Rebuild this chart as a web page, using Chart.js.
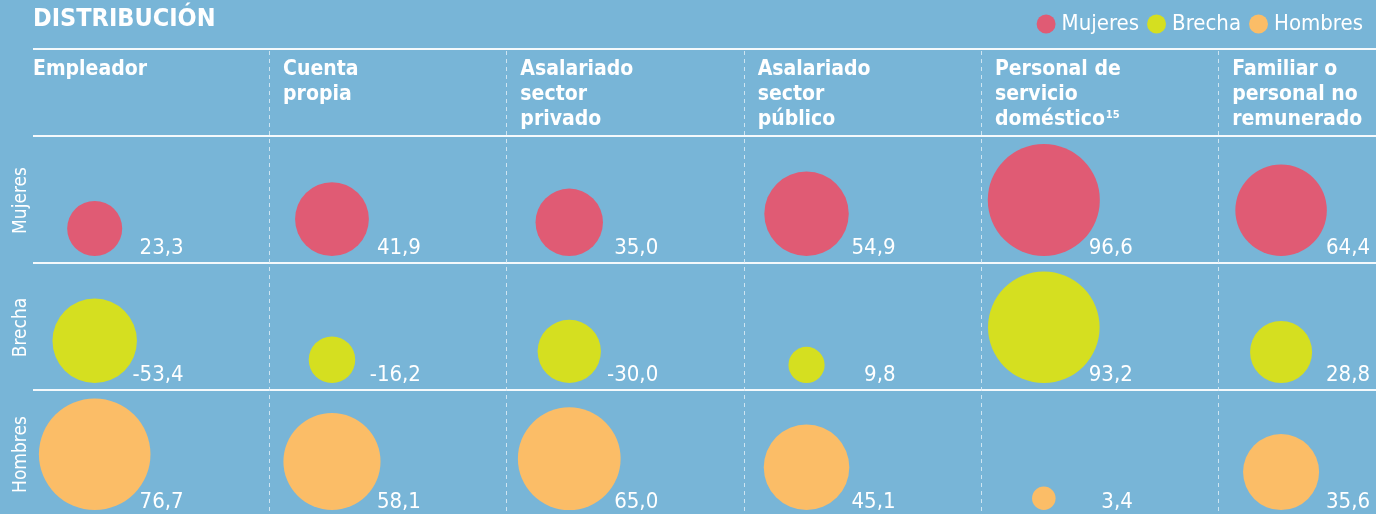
<!DOCTYPE html>
<html>
<head>
<meta charset="utf-8">
<script src="https://cdn.jsdelivr.net/npm/chart.js@4.4.1/dist/chart.umd.min.js"></script>
<style>
  html, body { margin: 0; padding: 0; background: #78b5d7; }
  #wrap { width: 1376px; height: 514px; position: relative; }
</style>
</head>
<body>
<div id="wrap"><canvas id="myChart"></canvas></div>
<script>
// data
const title = "DISTRIBUCIÓN";
const columns = [
  ["Empleador"],
  ["Cuenta", "propia"],
  ["Asalariado", "sector", "privado"],
  ["Asalariado", "sector", "público"],
  ["Personal de", "servicio", "doméstico"],
  ["Familiar o", "personal no", "remunerado"],
];
const footnotes = ["", "", "", "", "15", ""];
const series = ["Mujeres", "Brecha", "Hombres"];
const mujeres = [23.3, 41.9, 35.0, 54.9, 96.6, 64.4];
const brecha = [-53.4, -16.2, -30.0, 9.8, 93.2, 28.8];
const hombres = [76.7, 58.1, 65.0, 45.1, 3.4, 35.6];

// styles
const FONT = '"DejaVu Sans Condensed", "DejaVu Sans", sans-serif';
const colors = ["#e05b74", "#d5df20", "#fbbd67"];
const radiusScale = [5.7, 5.78, 6.37]; // px per sqrt(value)
const colEdge = 0.265;   // column edge, left of bubble (x units)
const labelRight = 0.375; // value label right edge, right of bubble

function points(values, row) {
  return values.map((v, i) => ({
    x: i,
    y: row,
    r: radiusScale[row] * Math.sqrt(Math.abs(v)),
    v: v,
  }));
}

const fmt = (v) => v.toFixed(1).replace(".", ",");

// bubbles sit on the bottom of their row
const bottomAlign = {
  id: "bottomAlign",
  afterDatasetsUpdate(chart) {
    const ys = chart.scales.y;
    chart.data.datasets.forEach((ds, d) => {
      chart.getDatasetMeta(d).data.forEach((el, i) => {
        el.y = ys.getPixelForValue(ds.data[i].y + 0.5) - 7 - el.options.radius;
      });
    });
  },
};

const decor = {
  id: "decor",
  beforeDraw(chart) {
    const { ctx } = chart;
    ctx.save();
    ctx.fillStyle = "#78b5d7";
    ctx.fillRect(0, 0, chart.width, chart.height);
    ctx.restore();
  },
  beforeDatasetsDraw(chart) {
    const { ctx, chartArea: a, scales } = chart;
    const xs = scales.x, ys = scales.y;
    ctx.save();
    // title
    ctx.fillStyle = "#ffffff";
    ctx.font = "bold 25px " + FONT;
    ctx.textAlign = "left";
    ctx.textBaseline = "alphabetic";
    ctx.fillText(title, a.left, 26);

    // horizontal lines
    ctx.strokeStyle = "rgba(255,255,255,0.92)";
    ctx.lineWidth = 2;
    const hy = [49, ys.getPixelForValue(-0.5), ys.getPixelForValue(0.5), ys.getPixelForValue(1.5)];
    hy.forEach((y) => {
      ctx.beginPath();
      ctx.moveTo(a.left, Math.round(y));
      ctx.lineTo(a.right, Math.round(y));
      ctx.stroke();
    });

    // dashed column separators
    ctx.strokeStyle = "rgba(220,236,246,0.85)";
    ctx.lineWidth = 1;
    ctx.setLineDash([4, 4]);
    for (let i = 1; i < columns.length; i++) {
      const x = Math.round(xs.getPixelForValue(i - colEdge)) + 0.5;
      ctx.beginPath();
      ctx.moveTo(x, 51);
      ctx.lineTo(x, a.bottom);
      ctx.stroke();
    }
    ctx.setLineDash([]);

    // column headers
    ctx.fillStyle = "#ffffff";
    columns.forEach((lines, i) => {
      const x = i === 0 ? a.left : xs.getPixelForValue(i - colEdge) + 14;
      ctx.font = "bold 21px " + FONT;
      lines.forEach((t, k) => ctx.fillText(t, x, 75 + k * 25));
      if (footnotes[i]) {
        const last = lines[lines.length - 1];
        const w = ctx.measureText(last).width;
        ctx.font = "bold 11px " + FONT;
        ctx.fillText(footnotes[i], x + w + 1, 75 + (lines.length - 1) * 25 - 7);
      }
    });

    // row labels
    ctx.font = "19px " + FONT;
    ctx.textAlign = "center";
    series.forEach((s, r) => {
      const cy = ys.getPixelForValue(r) + 1;
      ctx.save();
      ctx.translate(26, cy);
      ctx.rotate(-Math.PI / 2);
      ctx.fillText(s, 0, 0);
      ctx.restore();
    });
    ctx.restore();
  },
  afterDatasetsDraw(chart) {
    const { ctx, scales } = chart;
    const xs = scales.x, ys = scales.y;
    ctx.save();
    ctx.fillStyle = "#ffffff";
    ctx.font = "22px " + FONT;
    ctx.textAlign = "right";
    ctx.textBaseline = "alphabetic";
    chart.data.datasets.forEach((ds) => {
      ds.data.forEach((p) => {
        const x = xs.getPixelForValue(p.x + labelRight);
        const y = ys.getPixelForValue(p.y + 0.5) - 9;
        ctx.fillText(fmt(p.v), x, y);
      });
    });
    ctx.restore();
  },
};

const config = {
  type: "bubble",
  data: {
    datasets: [
      { label: series[0], data: points(mujeres, 0), backgroundColor: colors[0], borderWidth: 0, clip: false },
      { label: series[1], data: points(brecha, 1), backgroundColor: colors[1], borderWidth: 0, clip: false },
      { label: series[2], data: points(hombres, 2), backgroundColor: colors[2], borderWidth: 0, clip: false },
    ],
  },
  options: {
    responsive: true,
    maintainAspectRatio: false,
    animation: false,
    layout: { autoPadding: false, padding: { left: 33, right: 0, top: 0, bottom: 0 } },
    plugins: {
      legend: {
        position: "top",
        align: "end",
        labels: {
          color: "#ffffff",
          font: { family: FONT, size: 22 },
          usePointStyle: true,
          pointStyle: "circle",
          boxWidth: 9,
          boxHeight: 13.4,
          padding: 13,
        },
      },
      tooltip: { enabled: false },
    },
    scales: {
      x: {
        type: "linear",
        position: "top",
        min: -0.26,
        max: 5.4,
        ticks: { display: false },
        grid: { display: false },
        border: { display: false },
        afterFit: (s) => { s.height = 91; },
      },
      y: {
        type: "linear",
        display: false,
        reverse: true,
        min: -0.5,
        max: 2.476,
      },
    },
  },
  plugins: [bottomAlign, decor],
};

const myChart = new Chart(document.getElementById("myChart"), config);
</script>
</body>
</html>
